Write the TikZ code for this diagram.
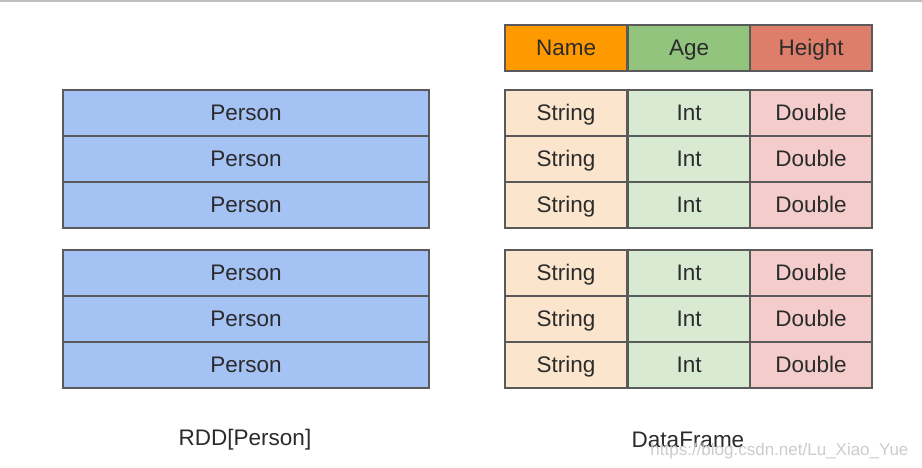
\documentclass[tikz,border=0pt]{standalone}
\usepackage{fontspec}
\setmainfont{Liberation Sans}
\definecolor{personblue}{HTML}{A4C2F4}
\definecolor{hname}{HTML}{FF9900}
\definecolor{hage}{HTML}{93C47D}
\definecolor{hheight}{HTML}{DD7E6B}
\definecolor{cstr}{HTML}{FCE5CD}
\definecolor{cint}{HTML}{D9EAD3}
\definecolor{cdbl}{HTML}{F4CCCC}
\definecolor{edge}{HTML}{5A5A5A}
\definecolor{txt}{HTML}{2B2B2B}
\tikzset{
  cell/.style={draw=edge, line width=2.2pt, inner sep=0pt, text=txt,
    font=\fontsize{22.5}{26}\selectfont, text height=17pt, text depth=2pt, anchor=north west},
  personcell/.style={cell, fill=personblue, minimum width=366pt, minimum height=46pt},
  dfcell/.style={cell, minimum width=122pt, minimum height=46pt},
  caption/.style={font=\fontsize{22.5}{26}\selectfont, text=txt},
}
\begin{document}
\begin{tikzpicture}[x=1pt,y=-1pt]
\useasboundingbox[fill=white] (0,0) rectangle (922,468);
\draw[black!25, line width=2pt] (0,1) -- (922,1);
% left column
\foreach \i/\y in {1/89,2/135,3/181,4/249,5/295,6/341}{
  \node[personcell] (p\i) at (62,\y) {Person};
}
% header
\node[dfcell, fill=hname] (hn) at (504,24) {Name};
\node[dfcell, fill=hage] (ha) at (627,24) {Age};
\node[dfcell, fill=hheight] (hh) at (749,24) {Height};
% rows
\foreach \i/\y in {1/89,2/135,3/181,4/249,5/295,6/341}{
  \node[dfcell, fill=cstr] (s\i) at (504,\y) {String};
  \node[dfcell, fill=cint] (n\i) at (627,\y) {Int};
  \node[dfcell, fill=cdbl] (d\i) at (749,\y) {Double};
}
\node[caption] (rddlabel) at (245,440) {RDD[Person]};
\node[caption] (dflabel) at (688,440) {DataFrame};
\node[font=\fontsize{17}{20}\selectfont, text=black!20, anchor=east] (wm) at (912,451) {https://blog.csdn.net/Lu\_Xiao\_Yue};
\end{tikzpicture}
\end{document}
